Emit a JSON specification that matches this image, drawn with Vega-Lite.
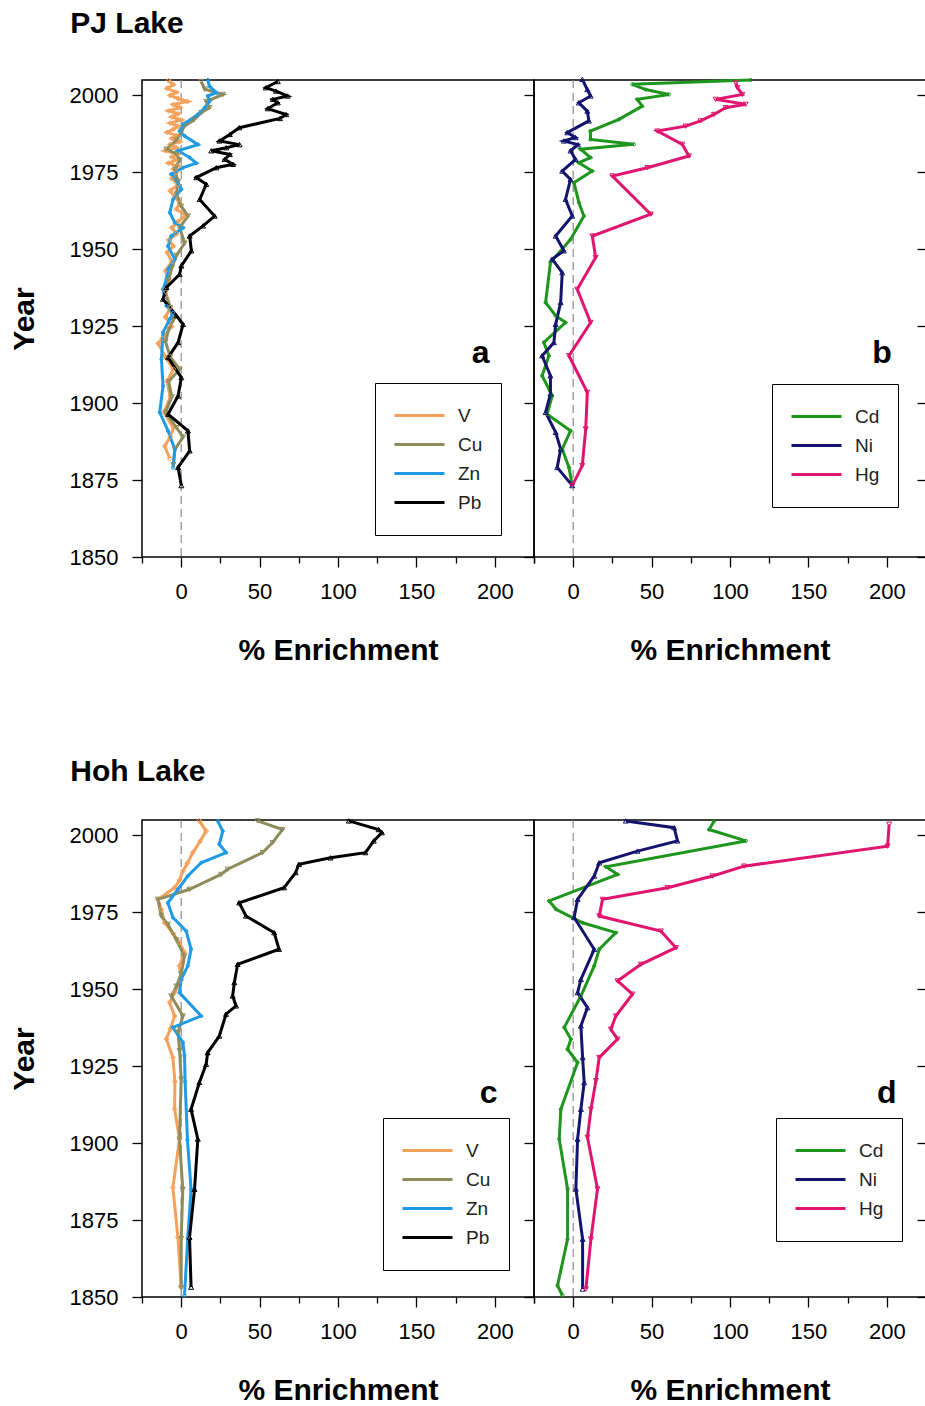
{
"$schema": "https://vega.github.io/schema/vega-lite/v6.json",
"background": "white",
"padding": {"left": 8, "top": 8, "right": 0, "bottom": 0},
"config": {
 "font": "Liberation Sans",
 "view": {"stroke": "black", "strokeWidth": 1.5},
 "axis": {"domain": false, "grid": false, "tickColor": "black", "tickWidth": 1.3, "labelFontSize": 22, "labelColor": "black", "labelFont": "Liberation Sans", "titleFont": "Liberation Sans", "titleFontSize": 30, "titleFontWeight": "bold", "titleColor": "black", "labelOverlap": false},
 "axisX": {"labelPadding": 14, "titlePadding": 33},
 "axisY": {"labelPadding": 14, "titlePadding": 30},
 "legend": {"orient": "none", "title": null, "symbolType": "stroke", "symbolSize": 2500, "symbolStrokeWidth": 3, "labelFontSize": 19, "labelColor": "#222", "labelFont": "Liberation Sans", "strokeColor": "black", "padding": 18, "clipHeight": 29, "labelOffset": 12, "rowPadding": 0},
 "point": {"filled": false, "size": 25, "strokeWidth": 1, "opacity": 1},
 "title": {"font": "Liberation Sans", "fontSize": 30, "fontWeight": "bold", "color": "black", "anchor": "start", "frame": "bounds"}
},
"datasets": {
 "pj_a": [
  {"element":"V","year":2004.8,"pct":-8},{"element":"V","year":2003.5,"pct":-5},{"element":"V","year":2002.3,"pct":-9},{"element":"V","year":2001,"pct":-3},{"element":"V","year":2000,"pct":-7},{"element":"V","year":1999,"pct":-2},{"element":"V","year":1998,"pct":4},{"element":"V","year":1997,"pct":-5},{"element":"V","year":1996,"pct":-1},{"element":"V","year":1995,"pct":-8},{"element":"V","year":1994,"pct":-2},{"element":"V","year":1993,"pct":-6},{"element":"V","year":1992,"pct":0},{"element":"V","year":1991,"pct":-7},{"element":"V","year":1990,"pct":-2},{"element":"V","year":1989,"pct":-5},{"element":"V","year":1988,"pct":-9},{"element":"V","year":1987,"pct":-3},{"element":"V","year":1986,"pct":-6},{"element":"V","year":1985,"pct":-1},{"element":"V","year":1984,"pct":-7},{"element":"V","year":1983,"pct":-3},{"element":"V","year":1982,"pct":-10},{"element":"V","year":1981,"pct":-2},{"element":"V","year":1980,"pct":-6},{"element":"V","year":1979,"pct":-3},{"element":"V","year":1978,"pct":-8},{"element":"V","year":1977,"pct":-2},{"element":"V","year":1976,"pct":-5},{"element":"V","year":1975,"pct":-3},{"element":"V","year":1973,"pct":-6},{"element":"V","year":1971,"pct":-2},{"element":"V","year":1969,"pct":-7},{"element":"V","year":1967,"pct":-4},{"element":"V","year":1965,"pct":-1},{"element":"V","year":1963,"pct":-3},{"element":"V","year":1961,"pct":3},{"element":"V","year":1959,"pct":-2},{"element":"V","year":1957,"pct":-6},{"element":"V","year":1955,"pct":-3},{"element":"V","year":1953,"pct":-8},{"element":"V","year":1951,"pct":-5},{"element":"V","year":1949,"pct":-9},{"element":"V","year":1946,"pct":-6},{"element":"V","year":1943,"pct":-10},{"element":"V","year":1940,"pct":-8},{"element":"V","year":1937,"pct":-11},{"element":"V","year":1934,"pct":-9},{"element":"V","year":1931,"pct":-7},{"element":"V","year":1928,"pct":-10},{"element":"V","year":1925,"pct":-6},{"element":"V","year":1921,"pct":-12},{"element":"V","year":1919.4,"pct":-14.7},{"element":"V","year":1915,"pct":-10},{"element":"V","year":1911,"pct":-5},{"element":"V","year":1907,"pct":-9},{"element":"V","year":1902,"pct":-7},{"element":"V","year":1897,"pct":-11},{"element":"V","year":1892,"pct":-5},{"element":"V","year":1889,"pct":-7},{"element":"V","year":1886,"pct":-10.5},{"element":"V","year":1882,"pct":-7.3},
  {"element":"Cu","year":2004.5,"pct":12.8},{"element":"Cu","year":2002,"pct":15},{"element":"Cu","year":2000.3,"pct":26.6},{"element":"Cu","year":1998,"pct":16},{"element":"Cu","year":1996,"pct":18},{"element":"Cu","year":1994.4,"pct":12.8},{"element":"Cu","year":1992,"pct":8},{"element":"Cu","year":1990,"pct":2},{"element":"Cu","year":1988,"pct":0},{"element":"Cu","year":1985.5,"pct":-3},{"element":"Cu","year":1982.5,"pct":-9.4},{"element":"Cu","year":1981,"pct":-3},{"element":"Cu","year":1979,"pct":-1},{"element":"Cu","year":1976,"pct":-4},{"element":"Cu","year":1972,"pct":-2},{"element":"Cu","year":1968,"pct":-3},{"element":"Cu","year":1964,"pct":0},{"element":"Cu","year":1960.8,"pct":4.3},{"element":"Cu","year":1957,"pct":-1},{"element":"Cu","year":1952,"pct":2.2},{"element":"Cu","year":1948,"pct":-3},{"element":"Cu","year":1944,"pct":-6},{"element":"Cu","year":1940,"pct":-8},{"element":"Cu","year":1936,"pct":-10},{"element":"Cu","year":1931,"pct":-7},{"element":"Cu","year":1927,"pct":-5},{"element":"Cu","year":1924,"pct":-8},{"element":"Cu","year":1920,"pct":-10},{"element":"Cu","year":1915,"pct":-7},{"element":"Cu","year":1911,"pct":-1},{"element":"Cu","year":1907,"pct":-8},{"element":"Cu","year":1902,"pct":-6},{"element":"Cu","year":1897,"pct":-10},{"element":"Cu","year":1892,"pct":-3},{"element":"Cu","year":1889,"pct":1.2},{"element":"Cu","year":1885,"pct":-4},{"element":"Cu","year":1880,"pct":-5},
  {"element":"Zn","year":2005,"pct":17},{"element":"Zn","year":2003,"pct":18},{"element":"Zn","year":2000.9,"pct":22.4},{"element":"Zn","year":1999.8,"pct":17},{"element":"Zn","year":1998,"pct":18},{"element":"Zn","year":1996,"pct":15},{"element":"Zn","year":1993.8,"pct":10.7},{"element":"Zn","year":1990.6,"pct":1.2},{"element":"Zn","year":1988.4,"pct":-1},{"element":"Zn","year":1986.8,"pct":2.2},{"element":"Zn","year":1984,"pct":10.7},{"element":"Zn","year":1982,"pct":-2},{"element":"Zn","year":1979.8,"pct":5.4},{"element":"Zn","year":1978,"pct":9.6},{"element":"Zn","year":1976.5,"pct":1.2},{"element":"Zn","year":1974.4,"pct":-6.3},{"element":"Zn","year":1971.6,"pct":-2},{"element":"Zn","year":1969.5,"pct":0.1},{"element":"Zn","year":1966.2,"pct":-5.2},{"element":"Zn","year":1961.9,"pct":-7.3},{"element":"Zn","year":1958.7,"pct":-4.1},{"element":"Zn","year":1957,"pct":1.2},{"element":"Zn","year":1954.3,"pct":-6.3},{"element":"Zn","year":1951,"pct":-8.4},{"element":"Zn","year":1946.8,"pct":-4.1},{"element":"Zn","year":1943.5,"pct":-8.4},{"element":"Zn","year":1940.3,"pct":-9.4},{"element":"Zn","year":1937,"pct":-11.6},{"element":"Zn","year":1931.6,"pct":-9.4},{"element":"Zn","year":1929.4,"pct":-5.2},{"element":"Zn","year":1927.3,"pct":-7.3},{"element":"Zn","year":1923,"pct":-11.6},{"element":"Zn","year":1914.3,"pct":-12.6},{"element":"Zn","year":1905.6,"pct":-11.6},{"element":"Zn","year":1897,"pct":-13.7},{"element":"Zn","year":1891,"pct":-8.4},{"element":"Zn","year":1885,"pct":-4.1},{"element":"Zn","year":1879,"pct":-5.2},
  {"element":"Pb","year":2004.5,"pct":61.6},{"element":"Pb","year":2002.5,"pct":54},{"element":"Pb","year":2001.4,"pct":60.5},{"element":"Pb","year":1999.8,"pct":67.9},{"element":"Pb","year":1998.7,"pct":58.4},{"element":"Pb","year":1997.6,"pct":61.6},{"element":"Pb","year":1995.7,"pct":55.2},{"element":"Pb","year":1993.8,"pct":66.9},{"element":"Pb","year":1992.5,"pct":63},{"element":"Pb","year":1989.5,"pct":37},{"element":"Pb","year":1987.3,"pct":31},{"element":"Pb","year":1985.2,"pct":24.4},{"element":"Pb","year":1984,"pct":37.2},{"element":"Pb","year":1983,"pct":28.7},{"element":"Pb","year":1982,"pct":19.2},{"element":"Pb","year":1980.8,"pct":31},{"element":"Pb","year":1979.2,"pct":27.7},{"element":"Pb","year":1977.6,"pct":33},{"element":"Pb","year":1976.5,"pct":22.4},{"element":"Pb","year":1973.3,"pct":9.6},{"element":"Pb","year":1971.1,"pct":16},{"element":"Pb","year":1966.2,"pct":11.8},{"element":"Pb","year":1960.8,"pct":21.3},{"element":"Pb","year":1957.6,"pct":13.9},{"element":"Pb","year":1954.3,"pct":5.4},{"element":"Pb","year":1949.5,"pct":6.5},{"element":"Pb","year":1944.6,"pct":0.1},{"element":"Pb","year":1941.9,"pct":-1},{"element":"Pb","year":1937.6,"pct":-9.4},{"element":"Pb","year":1933.8,"pct":-11.6},{"element":"Pb","year":1928.4,"pct":-3},{"element":"Pb","year":1925.6,"pct":1.2},{"element":"Pb","year":1919.7,"pct":-2},{"element":"Pb","year":1914.8,"pct":-8.4},{"element":"Pb","year":1908.3,"pct":0.1},{"element":"Pb","year":1902.3,"pct":-2},{"element":"Pb","year":1896.4,"pct":-8.4},{"element":"Pb","year":1891,"pct":4.3},{"element":"Pb","year":1884.5,"pct":5.4},{"element":"Pb","year":1879.1,"pct":-2},{"element":"Pb","year":1873.2,"pct":0.1}
 ],
 "pj_b": [
  {"element":"Cd","year":2005,"pct":113.2},{"element":"Cd","year":2003.6,"pct":37.7},{"element":"Cd","year":2001.9,"pct":46.2},{"element":"Cd","year":2000.3,"pct":61},{"element":"Cd","year":1998.7,"pct":40.9},{"element":"Cd","year":1996.5,"pct":44},{"element":"Cd","year":1992.2,"pct":29.2},{"element":"Cd","year":1988.4,"pct":11},{"element":"Cd","year":1985.7,"pct":11},{"element":"Cd","year":1984.1,"pct":38.7},{"element":"Cd","year":1982.5,"pct":4.7},{"element":"Cd","year":1979.8,"pct":11},{"element":"Cd","year":1978.1,"pct":3.6},{"element":"Cd","year":1975.4,"pct":12.1},{"element":"Cd","year":1971.6,"pct":0.5},{"element":"Cd","year":1965.2,"pct":3.6},{"element":"Cd","year":1960.8,"pct":6.8},{"element":"Cd","year":1953.2,"pct":-1.7},{"element":"Cd","year":1945.7,"pct":-14.5},{"element":"Cd","year":1932.7,"pct":-17.6},{"element":"Cd","year":1928.4,"pct":-11.2},{"element":"Cd","year":1926.2,"pct":-4.9},{"element":"Cd","year":1919.7,"pct":-18.7},{"element":"Cd","year":1915.4,"pct":-15.5},{"element":"Cd","year":1908.9,"pct":-19.8},{"element":"Cd","year":1902.4,"pct":-13.4},{"element":"Cd","year":1896.4,"pct":-16.6},{"element":"Cd","year":1891,"pct":-1.7},{"element":"Cd","year":1885.1,"pct":-7},{"element":"Cd","year":1879.1,"pct":-2.7},{"element":"Cd","year":1873.2,"pct":-0.6},
  {"element":"Ni","year":2005.2,"pct":5.8},{"element":"Ni","year":2001.9,"pct":9},{"element":"Ni","year":1999.8,"pct":11.1},{"element":"Ni","year":1997.6,"pct":3.6},{"element":"Ni","year":1994.9,"pct":9},{"element":"Ni","year":1991.7,"pct":10},{"element":"Ni","year":1987.9,"pct":-3.8},{"element":"Ni","year":1986.3,"pct":1.5},{"element":"Ni","year":1985.2,"pct":-5.9},{"element":"Ni","year":1984,"pct":3},{"element":"Ni","year":1982,"pct":-1.7},{"element":"Ni","year":1979.2,"pct":1.5},{"element":"Ni","year":1975.4,"pct":-7},{"element":"Ni","year":1972.7,"pct":-1.7},{"element":"Ni","year":1966.2,"pct":-4.9},{"element":"Ni","year":1960.8,"pct":-0.6},{"element":"Ni","year":1954.3,"pct":-11.2},{"element":"Ni","year":1949.5,"pct":-5.9},{"element":"Ni","year":1946.8,"pct":-13.4},{"element":"Ni","year":1942.4,"pct":-7},{"element":"Ni","year":1932.7,"pct":-8},{"element":"Ni","year":1925.6,"pct":-11.2},{"element":"Ni","year":1919.7,"pct":-12.3},{"element":"Ni","year":1915.4,"pct":-19.8},{"element":"Ni","year":1908.9,"pct":-14.5},{"element":"Ni","year":1903,"pct":-14.5},{"element":"Ni","year":1897,"pct":-17.6},{"element":"Ni","year":1890.5,"pct":-11.2},{"element":"Ni","year":1885.1,"pct":-8},{"element":"Ni","year":1879.1,"pct":-10.2},{"element":"Ni","year":1873.2,"pct":-0.6},
  {"element":"Hg","year":2004.1,"pct":103.7},{"element":"Hg","year":2002.5,"pct":104.7},{"element":"Hg","year":2000.3,"pct":107.9},{"element":"Hg","year":1998.7,"pct":90.9},{"element":"Hg","year":1997.1,"pct":110},{"element":"Hg","year":1996,"pct":97.2},{"element":"Hg","year":1993.8,"pct":89.8},{"element":"Hg","year":1991.7,"pct":81.3},{"element":"Hg","year":1990,"pct":71.7},{"element":"Hg","year":1988.4,"pct":53.7},{"element":"Hg","year":1984.1,"pct":69.6},{"element":"Hg","year":1980.3,"pct":73.8},{"element":"Hg","year":1976.5,"pct":47.3},{"element":"Hg","year":1973.8,"pct":25},{"element":"Hg","year":1961.4,"pct":49.4},{"element":"Hg","year":1954.3,"pct":12.2},{"element":"Hg","year":1947.3,"pct":14.3},{"element":"Hg","year":1937,"pct":2.6},{"element":"Hg","year":1926.2,"pct":11.1},{"element":"Hg","year":1915.4,"pct":-2.7},{"element":"Hg","year":1903.5,"pct":9},{"element":"Hg","year":1891.6,"pct":8},{"element":"Hg","year":1879.7,"pct":5.8},{"element":"Hg","year":1873.2,"pct":-0.6}
 ],
 "hoh_c": [
  {"element":"V","year":2004.7,"pct":11.6},{"element":"V","year":2001.4,"pct":15.9},{"element":"V","year":1998,"pct":12},{"element":"V","year":1994.4,"pct":7.4},{"element":"V","year":1991,"pct":4},{"element":"V","year":1988.4,"pct":1.1},{"element":"V","year":1985.5,"pct":-1},{"element":"V","year":1983,"pct":-4.2},{"element":"V","year":1979.2,"pct":-14.8},{"element":"V","year":1976,"pct":-12.7},{"element":"V","year":1971.6,"pct":-10.6},{"element":"V","year":1968,"pct":-5},{"element":"V","year":1965.2,"pct":-1.1},{"element":"V","year":1961.9,"pct":2.1},{"element":"V","year":1957.6,"pct":-1.1},{"element":"V","year":1953,"pct":0},{"element":"V","year":1949,"pct":-4},{"element":"V","year":1945.7,"pct":-7.4},{"element":"V","year":1941.3,"pct":-4.2},{"element":"V","year":1937,"pct":-7},{"element":"V","year":1933.8,"pct":-9.5},{"element":"V","year":1927.8,"pct":-5.3},{"element":"V","year":1920,"pct":-4},{"element":"V","year":1911,"pct":-4.2},{"element":"V","year":1901.3,"pct":-1.1},{"element":"V","year":1885.6,"pct":-5.3},{"element":"V","year":1869.4,"pct":-2.1},{"element":"V","year":1853.2,"pct":0},
  {"element":"Cu","year":2004.7,"pct":48.7},{"element":"Cu","year":2001.9,"pct":64.6},{"element":"Cu","year":1997.6,"pct":58.2},{"element":"Cu","year":1994.4,"pct":51.9},{"element":"Cu","year":1989,"pct":29.6},{"element":"Cu","year":1987.3,"pct":25.4},{"element":"Cu","year":1982.5,"pct":5.3},{"element":"Cu","year":1979.2,"pct":-14.8},{"element":"Cu","year":1973.8,"pct":-12.7},{"element":"Cu","year":1971.1,"pct":-8.5},{"element":"Cu","year":1966,"pct":-3},{"element":"Cu","year":1960.8,"pct":2.1},{"element":"Cu","year":1955,"pct":0},{"element":"Cu","year":1951,"pct":-3},{"element":"Cu","year":1947.8,"pct":-6.3},{"element":"Cu","year":1941.3,"pct":1.1},{"element":"Cu","year":1936,"pct":-2},{"element":"Cu","year":1930,"pct":-1},{"element":"Cu","year":1920.8,"pct":0},{"element":"Cu","year":1901.3,"pct":-1.1},{"element":"Cu","year":1885,"pct":1},{"element":"Cu","year":1869,"pct":0},{"element":"Cu","year":1853,"pct":0},
  {"element":"Zn","year":2004.7,"pct":23.3},{"element":"Zn","year":2001.4,"pct":26.5},{"element":"Zn","year":1997.1,"pct":24.3},{"element":"Zn","year":1994.4,"pct":28.6},{"element":"Zn","year":1991.1,"pct":12.7},{"element":"Zn","year":1986.8,"pct":4.2},{"element":"Zn","year":1982.5,"pct":-2},{"element":"Zn","year":1978.1,"pct":-8.5},{"element":"Zn","year":1973.3,"pct":-5.3},{"element":"Zn","year":1968.9,"pct":3.2},{"element":"Zn","year":1963,"pct":6.3},{"element":"Zn","year":1957.6,"pct":4.2},{"element":"Zn","year":1953.2,"pct":0},{"element":"Zn","year":1948.9,"pct":-1.1},{"element":"Zn","year":1941.3,"pct":12.7},{"element":"Zn","year":1937.6,"pct":-5.3},{"element":"Zn","year":1932.7,"pct":1.1},{"element":"Zn","year":1928.4,"pct":2.1},{"element":"Zn","year":1920,"pct":2.5},{"element":"Zn","year":1901,"pct":4},{"element":"Zn","year":1885,"pct":6.3},{"element":"Zn","year":1869.4,"pct":4.2},{"element":"Zn","year":1850.5,"pct":2.1},
  {"element":"Pb","year":2004.7,"pct":106.9},{"element":"Pb","year":2001.9,"pct":125.9},{"element":"Pb","year":2000.9,"pct":128},{"element":"Pb","year":1998.2,"pct":122.8},{"element":"Pb","year":1994.4,"pct":117.5},{"element":"Pb","year":1992.7,"pct":95.2},{"element":"Pb","year":1990.6,"pct":75.1},{"element":"Pb","year":1987.9,"pct":73},{"element":"Pb","year":1983,"pct":65.6},{"element":"Pb","year":1978.1,"pct":37},{"element":"Pb","year":1973.8,"pct":41.3},{"element":"Pb","year":1968.4,"pct":59.3},{"element":"Pb","year":1963,"pct":62.4},{"element":"Pb","year":1958.1,"pct":36},{"element":"Pb","year":1952.2,"pct":33.9},{"element":"Pb","year":1947.8,"pct":32.8},{"element":"Pb","year":1944.6,"pct":35},{"element":"Pb","year":1941.9,"pct":28.6},{"element":"Pb","year":1934.8,"pct":24.3},{"element":"Pb","year":1929.4,"pct":16.9},{"element":"Pb","year":1925.6,"pct":15.9},{"element":"Pb","year":1919.7,"pct":11.6},{"element":"Pb","year":1911,"pct":6.3},{"element":"Pb","year":1901.3,"pct":10.6},{"element":"Pb","year":1885,"pct":8.5},{"element":"Pb","year":1869.4,"pct":5.3},{"element":"Pb","year":1853.2,"pct":6.3}
 ],
 "hoh_d": [
  {"element":"Cd","year":2004.7,"pct":89.9},{"element":"Cd","year":2001.9,"pct":86.7},{"element":"Cd","year":1998.2,"pct":110.1},{"element":"Cd","year":1989.8,"pct":21},{"element":"Cd","year":1987.3,"pct":28.3},{"element":"Cd","year":1978.7,"pct":-15.3},{"element":"Cd","year":1976,"pct":-11},{"element":"Cd","year":1971.6,"pct":6},{"element":"Cd","year":1968.4,"pct":27.2},{"element":"Cd","year":1963,"pct":16.6},{"element":"Cd","year":1957.6,"pct":13.4},{"element":"Cd","year":1947.8,"pct":4.9},{"element":"Cd","year":1937.6,"pct":-5.7},{"element":"Cd","year":1933.8,"pct":-1.5},{"element":"Cd","year":1930.5,"pct":-3.6},{"element":"Cd","year":1926.2,"pct":2.8},{"element":"Cd","year":1911,"pct":-7.9},{"element":"Cd","year":1901.3,"pct":-8.9},{"element":"Cd","year":1885.1,"pct":-3.6},{"element":"Cd","year":1868.8,"pct":-3.6},{"element":"Cd","year":1853.7,"pct":-10},{"element":"Cd","year":1850.5,"pct":-6.8},
  {"element":"Ni","year":2004.7,"pct":33.6},{"element":"Ni","year":2002.5,"pct":64.4},{"element":"Ni","year":1998.2,"pct":66.5},{"element":"Ni","year":1994.9,"pct":41},{"element":"Ni","year":1991.1,"pct":16.6},{"element":"Ni","year":1986.8,"pct":13.4},{"element":"Ni","year":1979.2,"pct":2.8},{"element":"Ni","year":1973.3,"pct":0.6},{"element":"Ni","year":1963,"pct":13.4},{"element":"Ni","year":1953.2,"pct":4.9},{"element":"Ni","year":1948.9,"pct":2.8},{"element":"Ni","year":1944,"pct":9.1},{"element":"Ni","year":1938.1,"pct":4.9},{"element":"Ni","year":1927.8,"pct":6},{"element":"Ni","year":1919.7,"pct":7},{"element":"Ni","year":1911,"pct":4.9},{"element":"Ni","year":1901.3,"pct":2.8},{"element":"Ni","year":1885.1,"pct":1.7},{"element":"Ni","year":1868.8,"pct":6},{"element":"Ni","year":1852.6,"pct":6},
  {"element":"Hg","year":2003.6,"pct":201.5},{"element":"Hg","year":1996.5,"pct":200.5},{"element":"Hg","year":1990,"pct":109},{"element":"Hg","year":1986.8,"pct":88.9},{"element":"Hg","year":1983,"pct":60.2},{"element":"Hg","year":1979.2,"pct":18.7},{"element":"Hg","year":1973.8,"pct":16.6},{"element":"Hg","year":1968.9,"pct":55.9},{"element":"Hg","year":1963.5,"pct":65.5},{"element":"Hg","year":1958.1,"pct":43.2},{"element":"Hg","year":1952.7,"pct":28.3},{"element":"Hg","year":1948.4,"pct":37.8},{"element":"Hg","year":1941.3,"pct":27.2},{"element":"Hg","year":1937,"pct":24},{"element":"Hg","year":1933.8,"pct":28.3},{"element":"Hg","year":1927.8,"pct":16.6},{"element":"Hg","year":1920.3,"pct":14.5},{"element":"Hg","year":1911,"pct":11.3},{"element":"Hg","year":1901.9,"pct":9.1},{"element":"Hg","year":1885.1,"pct":15.5},{"element":"Hg","year":1868.8,"pct":11.3},{"element":"Hg","year":1852.6,"pct":8.1}
 ]
},
"spacing": 91,
"resolve": {"scale": {"color": "independent", "x": "independent", "y": "independent"}, "legend": {"color": "independent"}},
"vconcat": [
 {
  "title": {"text": "PJ Lake", "offset": 34, "dx": 62},
  "spacing": 0,
  "bounds": "flush",
  "resolve": {"scale": {"color": "independent", "x": "independent", "y": "independent"}, "legend": {"color": "independent"}},
  "hconcat": [
   {
    "width": 392, "height": 477,
    "resolve": {"axis": {"x": "independent"}},
    "layer": [
     {"data": {"values": [{}]}, "mark": {"type": "rule", "color": "#8a8a8a", "strokeDash": [8, 5], "strokeWidth": 1.2}, "encoding": {"x": {"datum": 0, "type": "quantitative", "axis": {"orient": "bottom", "values": [-25, 25, 75, 125, 175, 225], "labels": false, "title": null, "tickSize": 6}}}},
     {"data": {"name": "pj_a"}, "mark": {"type": "line", "strokeWidth": 3}, "encoding": {
       "x": {"field": "pct", "type": "quantitative", "scale": {"domain": [-25, 225], "nice": false, "zero": false}, "axis": {"orient": "bottom", "values": [0, 50, 100, 150, 200], "tickSize": 10, "title": "% Enrichment"}},
       "y": {"field": "year", "type": "quantitative", "scale": {"domain": [1850, 2005], "nice": false, "zero": false}, "axis": {"values": [1850, 1875, 1900, 1925, 1950, 1975, 2000], "format": "d", "tickSize": 10, "title": "Year"}},
       "order": {"field": "year", "type": "quantitative"},
       "color": {"field": "element", "type": "nominal", "scale": {"domain": ["V", "Cu", "Zn", "Pb"], "range": ["#F4A25B", "#8E8C5C", "#1F9BE6", "#000000"]}, "legend": {"legendX": 233, "legendY": 303, "symbolType": "stroke"}}
     }},
     {"data": {"name": "pj_a"}, "transform": [{"filter": "datum.element === 'V'"}], "mark": {"type": "point", "shape": "diamond"}, "encoding": {"x": {"field": "pct", "type": "quantitative", "axis": null}, "y": {"field": "year", "type": "quantitative"}, "color": {"field": "element", "type": "nominal", "legend": null}}},
     {"data": {"name": "pj_a"}, "transform": [{"filter": "datum.element === 'Cu'"}], "mark": {"type": "point", "shape": "triangle-down"}, "encoding": {"x": {"field": "pct", "type": "quantitative", "axis": null}, "y": {"field": "year", "type": "quantitative"}, "color": {"field": "element", "type": "nominal", "legend": null}}},
     {"data": {"name": "pj_a"}, "transform": [{"filter": "datum.element === 'Zn'"}], "mark": {"type": "point", "shape": "circle", "size": 10}, "encoding": {"x": {"field": "pct", "type": "quantitative", "axis": null}, "y": {"field": "year", "type": "quantitative"}, "color": {"field": "element", "type": "nominal", "legend": null}}},
     {"data": {"name": "pj_a"}, "transform": [{"filter": "datum.element === 'Pb'"}], "mark": {"type": "point", "shape": "triangle-up"}, "encoding": {"x": {"field": "pct", "type": "quantitative", "axis": null}, "y": {"field": "year", "type": "quantitative"}, "color": {"field": "element", "type": "nominal", "legend": null}}},
     {"data": {"values": [{}]}, "mark": {"type": "text", "text": "a", "fontSize": 32, "fontWeight": "bold", "align": "center", "baseline": "alphabetic"}, "encoding": {"x": {"datum": 191, "type": "quantitative", "axis": null}, "y": {"datum": 1913, "type": "quantitative"}}}
    ]
   },
   {
    "width": 392, "height": 477,
    "resolve": {"axis": {"x": "independent", "y": "independent"}},
    "layer": [
     {"data": {"values": [{}]}, "mark": {"type": "rule", "color": "#8a8a8a", "strokeDash": [8, 5], "strokeWidth": 1.2}, "encoding": {"x": {"datum": 0, "type": "quantitative", "axis": {"orient": "bottom", "values": [-25, 25, 75, 125, 175, 225], "labels": false, "title": null, "tickSize": 6}}}},
     {"data": {"name": "pj_b"}, "mark": {"type": "line", "strokeWidth": 3}, "encoding": {
       "x": {"field": "pct", "type": "quantitative", "scale": {"domain": [-25, 225], "nice": false, "zero": false}, "axis": {"orient": "bottom", "values": [0, 50, 100, 150, 200], "tickSize": 10, "title": "% Enrichment"}},
       "y": {"field": "year", "type": "quantitative", "scale": {"domain": [1850, 2005], "nice": false, "zero": false}, "axis": {"orient": "left", "values": [1850, 1875, 1900, 1925, 1950, 1975, 2000], "labels": false, "tickSize": 10, "title": null}},
       "order": {"field": "year", "type": "quantitative"},
       "color": {"field": "element", "type": "nominal", "scale": {"domain": ["Cd", "Ni", "Hg"], "range": ["#1E961E", "#14146E", "#E0156F"]}, "legend": {"legendX": 238, "legendY": 304, "symbolType": "stroke"}}
     }},
     {"data": {"name": "pj_b"}, "transform": [{"filter": "datum.element === 'Cd'"}], "mark": {"type": "point", "shape": "circle", "size": 10}, "encoding": {"x": {"field": "pct", "type": "quantitative", "axis": null}, "y": {"field": "year", "type": "quantitative", "axis": {"orient": "right", "values": [1850, 1875, 1900, 1925, 1950, 1975, 2000], "labels": false, "tickSize": -9, "title": null}}, "color": {"field": "element", "type": "nominal", "legend": null}}},
     {"data": {"name": "pj_b"}, "transform": [{"filter": "datum.element === 'Ni'"}], "mark": {"type": "point", "shape": "triangle-up"}, "encoding": {"x": {"field": "pct", "type": "quantitative", "axis": null}, "y": {"field": "year", "type": "quantitative", "axis": null}, "color": {"field": "element", "type": "nominal", "legend": null}}},
     {"data": {"name": "pj_b"}, "transform": [{"filter": "datum.element === 'Hg'"}], "mark": {"type": "point", "shape": "triangle-down"}, "encoding": {"x": {"field": "pct", "type": "quantitative", "axis": null}, "y": {"field": "year", "type": "quantitative", "axis": null}, "color": {"field": "element", "type": "nominal", "legend": null}}},
     {"data": {"values": [{}]}, "mark": {"type": "text", "text": "b", "fontSize": 32, "fontWeight": "bold", "align": "center", "baseline": "alphabetic"}, "encoding": {"x": {"datum": 197, "type": "quantitative", "axis": null}, "y": {"datum": 1913, "type": "quantitative", "axis": null}}}
    ]
   }
  ]
 },
 {
  "title": {"text": "Hoh Lake", "offset": 27, "dx": 62},
  "spacing": 0,
  "bounds": "flush",
  "resolve": {"scale": {"color": "independent", "x": "independent", "y": "independent"}, "legend": {"color": "independent"}},
  "hconcat": [
   {
    "width": 392, "height": 477,
    "resolve": {"axis": {"x": "independent"}},
    "layer": [
     {"data": {"values": [{}]}, "mark": {"type": "rule", "color": "#8a8a8a", "strokeDash": [8, 5], "strokeWidth": 1.2}, "encoding": {"x": {"datum": 0, "type": "quantitative", "axis": {"orient": "bottom", "values": [-25, 25, 75, 125, 175, 225], "labels": false, "title": null, "tickSize": 6}}}},
     {"data": {"name": "hoh_c"}, "mark": {"type": "line", "strokeWidth": 3}, "encoding": {
       "x": {"field": "pct", "type": "quantitative", "scale": {"domain": [-25, 225], "nice": false, "zero": false}, "axis": {"orient": "bottom", "values": [0, 50, 100, 150, 200], "tickSize": 10, "title": "% Enrichment"}},
       "y": {"field": "year", "type": "quantitative", "scale": {"domain": [1850, 2005], "nice": false, "zero": false}, "axis": {"values": [1850, 1875, 1900, 1925, 1950, 1975, 2000], "format": "d", "tickSize": 10, "title": "Year"}},
       "order": {"field": "year", "type": "quantitative"},
       "color": {"field": "element", "type": "nominal", "scale": {"domain": ["V", "Cu", "Zn", "Pb"], "range": ["#F4A25B", "#8E8C5C", "#1F9BE6", "#000000"]}, "legend": {"legendX": 241, "legendY": 298, "symbolType": "stroke"}}
     }},
     {"data": {"name": "hoh_c"}, "transform": [{"filter": "datum.element === 'V'"}], "mark": {"type": "point", "shape": "diamond"}, "encoding": {"x": {"field": "pct", "type": "quantitative", "axis": null}, "y": {"field": "year", "type": "quantitative"}, "color": {"field": "element", "type": "nominal", "legend": null}}},
     {"data": {"name": "hoh_c"}, "transform": [{"filter": "datum.element === 'Cu'"}], "mark": {"type": "point", "shape": "triangle-down"}, "encoding": {"x": {"field": "pct", "type": "quantitative", "axis": null}, "y": {"field": "year", "type": "quantitative"}, "color": {"field": "element", "type": "nominal", "legend": null}}},
     {"data": {"name": "hoh_c"}, "transform": [{"filter": "datum.element === 'Zn'"}], "mark": {"type": "point", "shape": "circle", "size": 10}, "encoding": {"x": {"field": "pct", "type": "quantitative", "axis": null}, "y": {"field": "year", "type": "quantitative"}, "color": {"field": "element", "type": "nominal", "legend": null}}},
     {"data": {"name": "hoh_c"}, "transform": [{"filter": "datum.element === 'Pb'"}], "mark": {"type": "point", "shape": "triangle-up"}, "encoding": {"x": {"field": "pct", "type": "quantitative", "axis": null}, "y": {"field": "year", "type": "quantitative"}, "color": {"field": "element", "type": "nominal", "legend": null}}},
     {"data": {"values": [{}]}, "mark": {"type": "text", "text": "c", "fontSize": 32, "fontWeight": "bold", "align": "center", "baseline": "alphabetic"}, "encoding": {"x": {"datum": 196, "type": "quantitative", "axis": null}, "y": {"datum": 1913, "type": "quantitative"}}}
    ]
   },
   {
    "width": 392, "height": 477,
    "resolve": {"axis": {"x": "independent", "y": "independent"}},
    "layer": [
     {"data": {"values": [{}]}, "mark": {"type": "rule", "color": "#8a8a8a", "strokeDash": [8, 5], "strokeWidth": 1.2}, "encoding": {"x": {"datum": 0, "type": "quantitative", "axis": {"orient": "bottom", "values": [-25, 25, 75, 125, 175, 225], "labels": false, "title": null, "tickSize": 6}}}},
     {"data": {"name": "hoh_d"}, "mark": {"type": "line", "strokeWidth": 3}, "encoding": {
       "x": {"field": "pct", "type": "quantitative", "scale": {"domain": [-25, 225], "nice": false, "zero": false}, "axis": {"orient": "bottom", "values": [0, 50, 100, 150, 200], "tickSize": 10, "title": "% Enrichment"}},
       "y": {"field": "year", "type": "quantitative", "scale": {"domain": [1850, 2005], "nice": false, "zero": false}, "axis": {"orient": "left", "values": [1850, 1875, 1900, 1925, 1950, 1975, 2000], "labels": false, "tickSize": 10, "title": null}},
       "order": {"field": "year", "type": "quantitative"},
       "color": {"field": "element", "type": "nominal", "scale": {"domain": ["Cd", "Ni", "Hg"], "range": ["#1E961E", "#14146E", "#E0156F"]}, "legend": {"legendX": 242, "legendY": 298, "symbolType": "stroke"}}
     }},
     {"data": {"name": "hoh_d"}, "transform": [{"filter": "datum.element === 'Cd'"}], "mark": {"type": "point", "shape": "circle", "size": 10}, "encoding": {"x": {"field": "pct", "type": "quantitative", "axis": null}, "y": {"field": "year", "type": "quantitative", "axis": {"orient": "right", "values": [1850, 1875, 1900, 1925, 1950, 1975, 2000], "labels": false, "tickSize": -9, "title": null}}, "color": {"field": "element", "type": "nominal", "legend": null}}},
     {"data": {"name": "hoh_d"}, "transform": [{"filter": "datum.element === 'Ni'"}], "mark": {"type": "point", "shape": "triangle-up"}, "encoding": {"x": {"field": "pct", "type": "quantitative", "axis": null}, "y": {"field": "year", "type": "quantitative", "axis": null}, "color": {"field": "element", "type": "nominal", "legend": null}}},
     {"data": {"name": "hoh_d"}, "transform": [{"filter": "datum.element === 'Hg'"}], "mark": {"type": "point", "shape": "triangle-down"}, "encoding": {"x": {"field": "pct", "type": "quantitative", "axis": null}, "y": {"field": "year", "type": "quantitative", "axis": null}, "color": {"field": "element", "type": "nominal", "legend": null}}},
     {"data": {"values": [{}]}, "mark": {"type": "text", "text": "d", "fontSize": 32, "fontWeight": "bold", "align": "center", "baseline": "alphabetic"}, "encoding": {"x": {"datum": 200, "type": "quantitative", "axis": null}, "y": {"datum": 1913, "type": "quantitative", "axis": null}}}
    ]
   }
  ]
 }
]
}
